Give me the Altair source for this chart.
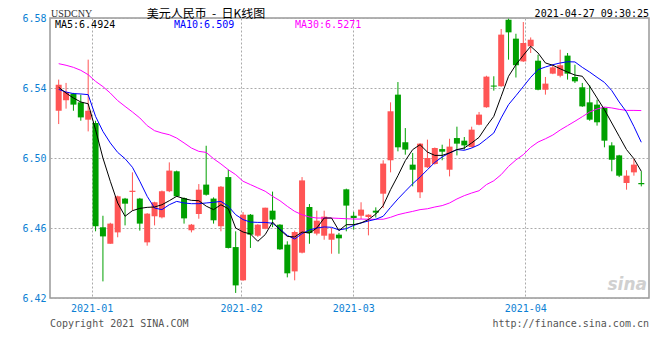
import altair as alt
import pandas as pd
import numpy as np

# ---------------- data ----------------
open_ = [6.527, 6.533, 6.5368, 6.5318, 6.5219, 6.52, 6.4604, 6.451, 6.4575, 6.4768,
         6.4806, 6.4768, 6.4518, 6.4667, 6.4661, 6.481, 6.4924, 6.4771, 6.4587, 6.468,
         6.4848, 6.4768, 6.461, 6.4891, 6.4491, 6.4301, 6.4676, 6.4556, 6.4596, 6.4699,
         6.4619, 6.4505, 6.4352, 6.4459, 6.472, 6.4568, 6.4556, 6.4533, 6.4562, 6.4821,
         6.467, 6.467, 6.4663, 6.4699, 6.4796, 6.4987, 6.5362, 6.509, 6.4962, 6.4804,
         6.4947, 6.4966, 6.5051, 6.4933, 6.5114, 6.5099, 6.5063, 6.519, 6.529, 6.5414,
         6.541, 6.579, 6.5682, 6.5552, 6.5638, 6.5556, 6.539, 6.5482, 6.547, 6.5585,
         6.5463, 6.5404, 6.5318, 6.5305, 6.5286, 6.5072, 6.5015, 6.4857, 6.4918, 6.4857]
high = [6.5448, 6.5429, 6.5372, 6.5362, 6.5562, 6.5213, 6.467, 6.463, 6.4785, 6.4772,
        6.4918, 6.4772, 6.4685, 6.475, 6.4814, 6.4975, 6.4928, 6.4775, 6.4623, 6.4851,
        6.507, 6.4775, 6.484, 6.4933, 6.4581, 6.4691, 6.468, 6.4622, 6.4716, 6.4808,
        6.4622, 6.4524, 6.4585, 6.4891, 6.4737, 6.4699, 6.4699, 6.46, 6.4572, 6.4825,
        6.4691, 6.4747, 6.4678, 6.4718, 6.4987, 6.5318, 6.5434, 6.5171, 6.5029, 6.5085,
        6.5105, 6.506, 6.5076, 6.511, 6.5179, 6.512, 6.5179, 6.5263, 6.547, 6.5467,
        6.5737, 6.5796, 6.571, 6.5777, 6.5689, 6.559, 6.5463, 6.5533, 6.5619, 6.56,
        6.5533, 6.5429, 6.5415, 6.5333, 6.529, 6.509, 6.5018, 6.493, 6.4996, 6.4924]
low = [6.5194, 6.5282, 6.527, 6.5213, 6.5152, 6.4581, 6.4295, 6.451, 6.4547, 6.4615,
       6.4699, 6.4585, 6.4499, 6.4615, 6.4655, 6.4805, 6.4777, 6.4625, 6.4575, 6.4653,
       6.4785, 6.4625, 6.4581, 6.4483, 6.4229, 6.4298, 6.4486, 6.4549, 6.4593, 6.4605,
       6.4475, 6.4318, 6.4301, 6.4455, 6.451, 6.4558, 6.4533, 6.4453, 6.4453, 6.4581,
       6.459, 6.4651, 6.4558, 6.466, 6.4714, 6.4918, 6.5038, 6.5019, 6.4838, 6.4771,
       6.4943, 6.4962, 6.4987, 6.4895, 6.5015, 6.5048, 6.506, 6.5187, 6.5287, 6.5385,
       6.5407, 6.5562, 6.546, 6.5549, 6.56, 6.5387, 6.5362, 6.5479, 6.5461, 6.5448,
       6.5429, 6.5292, 6.5213, 6.5185, 6.5061, 6.4924, 6.4891, 6.4819, 6.4899, 6.4838]
close = [6.5419, 6.5377, 6.5305, 6.5232, 6.527, 6.461, 6.4552, 6.4625, 6.4781, 6.4739,
         6.4813, 6.4625, 6.4682, 6.4747, 6.481, 6.4928, 6.4781, 6.4655, 6.4619, 6.4819,
         6.479, 6.4644, 6.4836, 6.4486, 6.4272, 6.4676, 6.4562, 6.4619, 6.4716, 6.4648,
         6.4478, 6.4341, 6.4577, 6.4872, 6.4571, 6.4642, 6.4665, 6.4568, 6.4541, 6.4728,
         6.4657, 6.4705, 6.4676, 6.4688, 6.4968, 6.5267, 6.5061, 6.5048, 6.4933, 6.5082,
         6.5, 6.5057, 6.5036, 6.5065, 6.5082, 6.5072, 6.5162, 6.5248, 6.5465, 6.5408,
         6.5705, 6.5718, 6.553, 6.5657, 6.5676, 6.539, 6.5425, 6.5518, 6.553, 6.5482,
         6.5438, 6.5295, 6.5219, 6.5204, 6.5099, 6.499, 6.4899, 6.4899, 6.4962, 6.485]
ma5 = [6.5404, 6.5371, 6.5343, 6.532, 6.531, 6.5162, 6.5, 6.4867, 6.4743, 6.4667,
       6.4699, 6.4712, 6.4718, 6.472, 6.4733, 6.4756, 6.4781, 6.4768, 6.4758, 6.4756,
       6.4725, 6.4705, 6.4733, 6.471, 6.46, 6.4577, 6.4566, 6.4524, 6.4562, 6.4634,
       6.459, 6.4552, 6.4549, 6.4577, 6.4571, 6.46, 6.4657, 6.4657, 6.4585, 6.4619,
       6.4619, 6.4629, 6.4648, 6.468, 6.4728, 6.4819, 6.4899, 6.4985, 6.5048, 6.5076,
       6.5034, 6.5015, 6.5015, 6.5029, 6.5048, 6.5057, 6.5086, 6.5118, 6.5181, 6.5238,
       6.5352, 6.5467, 6.5533, 6.5587, 6.5638, 6.56, 6.5543, 6.553, 6.551, 6.5491,
       6.5474, 6.5467, 6.541, 6.5343, 6.5276, 6.52, 6.5124, 6.5048, 6.4996, 6.4924]
ma10 = [6.5392, 6.5377, 6.5368, 6.5366, 6.5362, 6.5238, 6.5152, 6.5086, 6.5032, 6.4996,
        6.4947, 6.4867, 6.4781, 6.4714, 6.4705, 6.4733, 6.4752, 6.4743, 6.4739, 6.4739,
        6.4743, 6.4747, 6.4752, 6.4724, 6.4676, 6.4648, 6.4634, 6.4632, 6.4632, 6.4627,
        6.4594, 6.4558, 6.4537, 6.4568, 6.4589, 6.46, 6.4606, 6.4604, 6.4589, 6.4596,
        6.4615, 6.4629, 6.464, 6.465, 6.4667, 6.4718, 6.4766, 6.481, 6.4853, 6.4891,
        6.4933, 6.4975, 6.5006, 6.5029, 6.5048, 6.5044, 6.5057, 6.5076, 6.5109, 6.5143,
        6.5229, 6.5305, 6.5356, 6.5408, 6.5461, 6.5505, 6.552, 6.5533, 6.5543, 6.555,
        6.5549, 6.5518, 6.5491, 6.5461, 6.5432, 6.5385, 6.532, 6.5263, 6.518, 6.509]
ma30 = [6.5539, 6.553, 6.5518, 6.5501, 6.5476, 6.5438, 6.5408, 6.5371, 6.5328, 6.5295,
        6.5263, 6.5229, 6.5185, 6.5156, 6.5143, 6.5133, 6.5114, 6.5086, 6.5057, 6.5038,
        6.5032, 6.4996, 6.4966, 6.4933, 6.4905, 6.4867, 6.4848, 6.4829, 6.481, 6.4781,
        6.4756, 6.4724, 6.4695, 6.4676, 6.4663, 6.4657, 6.4657, 6.4657, 6.4655, 6.4653,
        6.4651, 6.4651, 6.465, 6.465, 6.465, 6.4661, 6.4676, 6.4686, 6.4695, 6.4705,
        6.471, 6.472, 6.4728, 6.4743, 6.4766, 6.4785, 6.48, 6.4813, 6.4848, 6.487,
        6.4905, 6.4952, 6.4989, 6.5019, 6.5061, 6.5091, 6.511, 6.5131, 6.516, 6.5185,
        6.521, 6.5236, 6.5263, 6.528, 6.5291, 6.5286, 6.5278, 6.5272, 6.5272, 6.5271]

month_pos = [4.97, 25.24, 40.44, 63.77]
month_labels = ["2021-01", "2021-02", "2021-03", "2021-04"]
y_ticks = [6.42, 6.44, 6.46, 6.48, 6.50, 6.52, 6.54, 6.56, 6.58]
legend_texts = ["MA5:6.4924", "MA10:6.509", "MA30:6.5271"]
title_text = "美元人民币 \u00a0-\u00a0 日K线图"
symbol_text = "USDCNY"
time_text = "2021-04-27 09:30:25"
copyright_text = "Copyright 2021 SINA.COM"
url_text = "http://finance.sina.com.cn"

# ---------------- styles ----------------
RED, GREEN = "#ff5555", "#00a000"
BLUE_LBL = "#0b7fd4"
MONO = "DejaVu Sans Mono"
W, H = 599, 280

n = len(close)
df = pd.DataFrame({"i": np.arange(n), "open": open_, "high": high, "low": low,
                   "close": close, "ma5": ma5, "ma10": ma10, "ma30": ma30})
df["c"] = df["i"] + 0.5
df["dir"] = np.where(df["close"] >= df["open"], "up", "down")

# label expression for month ticks
expr = "'" + month_labels[-1] + "'"
for k in range(len(month_pos) - 2, -1, -1):
    thr = (month_pos[k] + month_pos[k + 1]) / 2
    expr = f"datum.value < {thr} ? '{month_labels[k]}' : " + expr

xs = alt.Scale(domain=[0, W / 7.5], nice=False, zero=False)
ys = alt.Scale(domain=[6.42, 6.58], nice=False, zero=False)

xax = alt.Axis(values=month_pos, labelExpr=expr, grid=True, gridDash=[2, 2],
               gridColor="#aaaaaa", ticks=False, domain=False, labelColor=BLUE_LBL,
               labelFont=MONO, labelFontSize=10, labelPadding=5, title=None,
               labelFlush=False)
yax = alt.Axis(values=y_ticks, format=".2f", grid=True, gridDash=[2, 2],
               gridColor="#aaaaaa", ticks=False, domain=False, labelColor=BLUE_LBL,
               labelFont=MONO, labelFontSize=10, labelPadding=4, title=None,
               labelFlush=False)

color = alt.Color("dir:N", scale=alt.Scale(domain=["up", "down"], range=[RED, GREEN]),
                  legend=None)

base = alt.Chart(df)
wicks = base.mark_rule(strokeWidth=1).encode(
    x=alt.X("c:Q", scale=xs, axis=xax),
    y=alt.Y("low:Q", scale=ys, axis=yax),
    y2="high:Q",
    color=color,
)
bodies = base.mark_bar(size=6).encode(
    x=alt.X("c:Q", scale=xs),
    y=alt.Y("open:Q", scale=ys),
    y2="close:Q",
    color=color,
)
l5 = base.mark_line(color="black", strokeWidth=1).encode(x=alt.X("c:Q", scale=xs), y=alt.Y("ma5:Q", scale=ys))
l10 = base.mark_line(color="#0000ff", strokeWidth=1).encode(x=alt.X("c:Q", scale=xs), y=alt.Y("ma10:Q", scale=ys))
l30 = base.mark_line(color="#ff00ff", strokeWidth=1).encode(x=alt.X("c:Q", scale=xs), y=alt.Y("ma30:Q", scale=ys))


def label(text, x, y, align="left", size=10, font=MONO, col="#000", baseline="middle", **kw):
    return alt.Chart(pd.DataFrame({"t": [text]})).mark_text(
        align=align, baseline=baseline, fontSize=size, font=font, color=col, **kw
    ).encode(text="t:N", x=alt.value(x), y=alt.value(y))


texts = [
    label(title_text, 156, -9.5, align="center", size=12, font="Noto Sans CJK SC", baseline="top"),
    label(symbol_text, 1, -9, size=10, font="Liberation Serif", col="#333", baseline="top"),
    label(time_text, 599, -9.5, align="right", size=10, baseline="top"),
    label(legend_texts[0], 5, 7, col="#000"),
    label(legend_texts[1], 124, 7, col="#0000ff"),
    label(legend_texts[2], 245, 7, col="#ff00ff"),
    label(copyright_text, 0, 306, col="#555"),
    label(url_text, 599, 306, align="right", col="#555"),
    label("sina", 597, 267, align="right", size=17, font="DejaVu Sans", col="#d0d0d0",
          fontStyle="italic", fontWeight="bold"),
]

chart = alt.layer(wicks, bodies, l30, l10, l5, *texts).properties(
    width=W, height=H,
    autosize=alt.AutoSizeParams(type="none"),
    padding={"left": 42, "top": 10, "right": 3, "bottom": 36},
    background="white",
).configure_view(stroke="#999999", strokeWidth=1.5)

chart.save("out.html", embed_options={"renderer": "svg", "actions": False})
